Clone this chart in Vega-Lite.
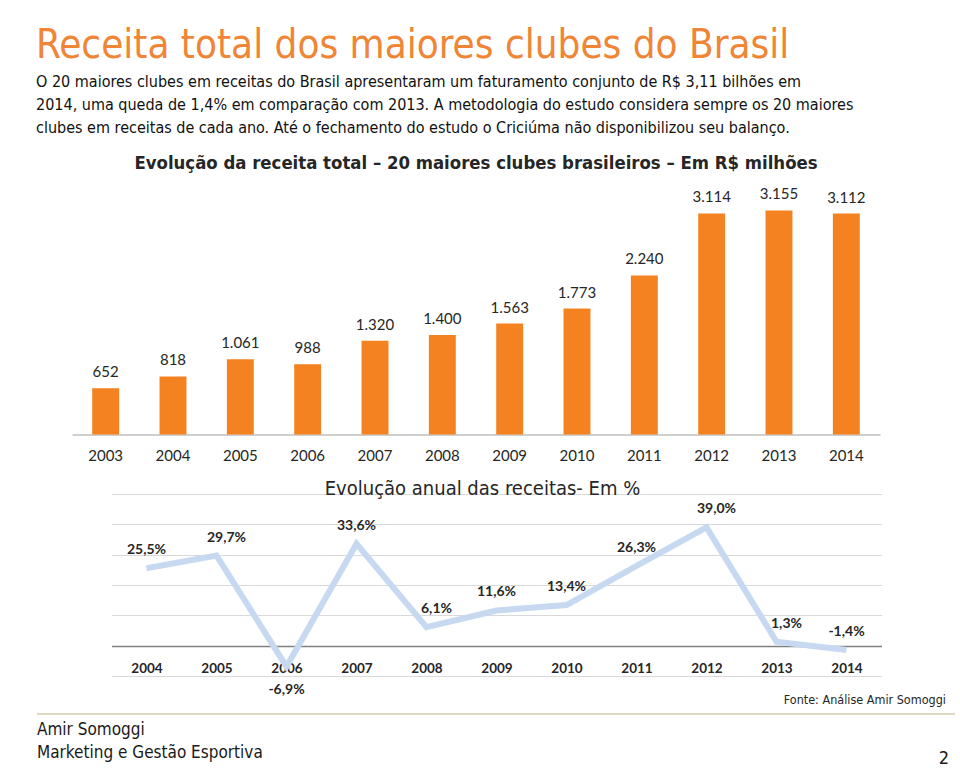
{
  "$schema": "https://vega.github.io/schema/vega-lite/v6.json",
  "background": "white",
  "padding": {"left": 36, "top": 25, "right": 4, "bottom": 4},
  "autosize": {"type": "pad"},
  "config": {
    "view": {"stroke": null},
    "font": "DejaVu Sans Condensed",
    "locale": {"number": {"decimal": ",", "thousands": ".", "grouping": [3], "currency": ["R$ ", ""], "minus": "-", "percent": "%"}}
  },
  "title": {
    "text": "Receita total dos maiores clubes do Brasil",
    "subtitle": [
      "O 20 maiores clubes em receitas do Brasil apresentaram um faturamento conjunto de R$ 3,11 bilhões em",
      "2014, uma queda de 1,4% em comparação com 2013. A metodologia do estudo considera sempre os 20 maiores",
      "clubes em receitas de cada ano. Até o fechamento do estudo o Criciúma não disponibilizou  seu balanço."
    ],
    "anchor": "start",
    "frame": "bounds",
    "font": "DejaVu Sans Condensed",
    "fontSize": 40,
    "fontWeight": "normal",
    "color": "#F08536",
    "subtitleFont": "DejaVu Sans Condensed",
    "subtitleFontSize": 16,
    "subtitleColor": "#111111",
    "subtitleLineHeight": 23,
    "subtitlePadding": 8,
    "offset": 18
  },
  "center": true,
  "spacing": 15,
  "vconcat": [
    {
      "width": 808,
      "height": 248.5,
      "title": {
        "text": "Evolução da receita total – 20 maiores clubes brasileiros – Em R$ milhões",
        "font": "DejaVu Sans Condensed",
        "fontSize": 18.4,
        "fontWeight": "bold",
        "color": "#262626",
        "anchor": "middle",
        "offset": 14
      },
      "data": {"values": [
        {"ano": "2003", "receita": 652},
        {"ano": "2004", "receita": 818},
        {"ano": "2005", "receita": 1061},
        {"ano": "2006", "receita": 988},
        {"ano": "2007", "receita": 1320},
        {"ano": "2008", "receita": 1400},
        {"ano": "2009", "receita": 1563},
        {"ano": "2010", "receita": 1773},
        {"ano": "2011", "receita": 2240},
        {"ano": "2012", "receita": 3114},
        {"ano": "2013", "receita": 3155},
        {"ano": "2014", "receita": 3112}
      ]},
      "encoding": {
        "x": {
          "field": "ano", "type": "ordinal",
          "scale": {"paddingInner": 0.6, "paddingOuter": 0.3},
          "axis": {"title": null, "labelAngle": 0, "ticks": false, "labelPadding": 14, "labelFont": "Lato", "labelFontSize": 15, "labelColor": "#262626", "domainColor": "#BFBFBF", "domainWidth": 1.5}
        },
        "y": {
          "field": "receita", "type": "quantitative",
          "scale": {"domain": [0, 3500], "nice": false},
          "axis": {"orient": "right", "title": null, "labels": false, "ticks": false, "grid": false, "domain": true, "domainColor": "transparent", "offset": 41}
        }
      },
      "layer": [
        {"mark": {"type": "bar", "color": "#F58220"}},
        {
          "mark": {"type": "text", "baseline": "alphabetic", "dy": -11, "font": "Lato", "fontSize": 15, "color": "#262626"},
          "encoding": {"text": {"field": "receita", "type": "quantitative", "format": ",d"}}
        }
      ]
    },
    {
      "center": true,
      "spacing": -3,
      "vconcat": [
        {
          "width": 770,
          "height": 182,
          "title": {
            "text": "Evolução anual das receitas- Em %",
            "font": "DejaVu Sans Condensed",
            "fontSize": 20,
            "fontWeight": "normal",
            "color": "#262626",
            "anchor": "middle",
            "dx": -14,
            "offset": -5
          },
          "data": {"values": [
            {"ano": "2004", "variacao": 0.255},
            {"ano": "2005", "variacao": 0.297},
            {"ano": "2006", "variacao": -0.069},
            {"ano": "2007", "variacao": 0.336},
            {"ano": "2008", "variacao": 0.061},
            {"ano": "2009", "variacao": 0.116},
            {"ano": "2010", "variacao": 0.134},
            {"ano": "2011", "variacao": 0.263},
            {"ano": "2012", "variacao": 0.390},
            {"ano": "2013", "variacao": 0.013},
            {"ano": "2014", "variacao": -0.014}
          ]},
          "encoding": {
            "x": {
              "field": "ano", "type": "ordinal",
              "scale": {"type": "point", "padding": 0.5},
              "axis": {
                "orient": "bottom", "offset": -30, "labelAngle": 0, "ticks": false, "labelPadding": 15,
                "labelFont": "Lato", "labelFontWeight": "bold", "labelFontSize": 13.5, "labelColor": "#262626",
                "domainColor": "#808080", "domainWidth": 1.5, "title": null
              }
            },
            "y": {
              "field": "variacao", "type": "quantitative",
              "scale": {"domain": [-0.1, 0.5], "nice": false, "zero": false},
              "axis": {"title": null, "labels": false, "ticks": false, "grid": true, "gridColor": "#D9D9D9", "gridWidth": 1,
                       "values": [-0.1, 0, 0.1, 0.2, 0.3, 0.4, 0.5], "domain": false}
            }
          },
          "layer": [
            {"mark": {"type": "line", "color": "#C6D9F1", "strokeWidth": 6}},
            {
              "transform": [{"filter": {"field": "ano", "oneOf": ["2004", "2007", "2009", "2010", "2011", "2014"]}}],
              "mark": {"type": "text", "baseline": "alphabetic", "dy": -14, "font": "Lato", "fontWeight": "bold", "fontSize": 14, "color": "#262626"},
              "encoding": {"text": {"field": "variacao", "type": "quantitative", "format": ".1%"}}
            },
            {
              "transform": [{"filter": {"field": "ano", "oneOf": ["2005", "2008", "2012", "2013"]}}],
              "mark": {"type": "text", "baseline": "alphabetic", "dx": 10, "dy": -14, "font": "Lato", "fontWeight": "bold", "fontSize": 14, "color": "#262626"},
              "encoding": {"text": {"field": "variacao", "type": "quantitative", "format": ".1%"}}
            },
            {
              "transform": [{"filter": {"field": "ano", "equal": "2006"}}],
              "mark": {"type": "text", "baseline": "alphabetic", "dy": 27, "font": "Lato", "fontWeight": "bold", "fontSize": 14, "color": "#262626"},
              "encoding": {"text": {"field": "variacao", "type": "quantitative", "format": ".1%"}}
            }
          ]
        },
        {
          "width": 918,
          "height": 60,
          "layer": [
            {
              "data": {"values": [{"fonte": "Fonte: Análise Amir Somoggi"}]},
              "mark": {"type": "text", "align": "right", "baseline": "middle", "font": "DejaVu Sans Condensed", "fontSize": 12.5, "color": "#262626"},
              "encoding": {"text": {"field": "fonte"}, "x": {"value": 909}, "y": {"value": 0}}
            },
            {
              "data": {"values": [{"separador": "rodapé"}]},
              "mark": {"type": "rule", "color": "#DDD9C3", "strokeWidth": 2},
              "encoding": {"x": {"value": 0}, "x2": {"value": 918}, "y": {"value": 14}}
            },
            {
              "data": {"values": [{"texto": "Amir Somoggi\nMarketing e Gestão Esportiva"}]},
              "mark": {"type": "text", "align": "left", "baseline": "middle", "lineBreak": "\n", "lineHeight": 23, "font": "DejaVu Sans Condensed", "fontSize": 17, "color": "#1A1A1A"},
              "encoding": {"text": {"field": "texto"}, "x": {"value": 0}, "y": {"value": 30}}
            },
            {
              "data": {"values": [{"pagina": "2"}]},
              "mark": {"type": "text", "align": "right", "baseline": "middle", "font": "DejaVu Sans Condensed", "fontSize": 18, "color": "#1A1A1A"},
              "encoding": {"text": {"field": "pagina"}, "x": {"value": 912}, "y": {"value": 59}}
            }
          ]
        }
      ]
    }
  ]
}
